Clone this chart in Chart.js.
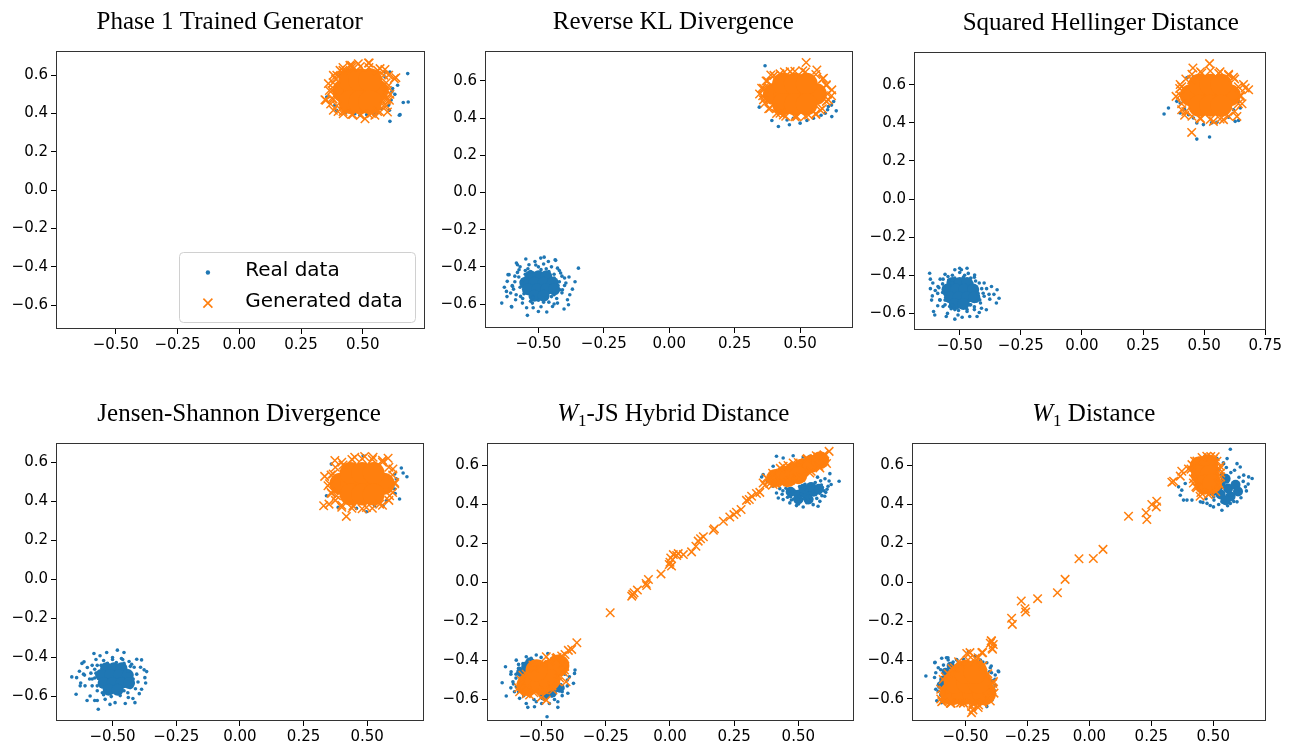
<!DOCTYPE html>
<html><head><meta charset="utf-8">
<script src="https://cdn.jsdelivr.net/npm/chart.js@4.4.1/dist/chart.umd.min.js"></script>
<style>
html,body{margin:0;padding:0;background:#fff;width:1294px;height:746px;overflow:hidden;position:relative}
canvas{position:absolute}
</style></head><body>
<canvas id="c1"></canvas><canvas id="c2"></canvas><canvas id="c3"></canvas>
<canvas id="c4"></canvas><canvas id="c5"></canvas><canvas id="c6"></canvas>
<script>
const BLUE = '#1f77b4', ORANGE = '#ff7f0e';

// ---------- tick values ----------
const xTicksA = [-0.5, -0.25, 0, 0.25, 0.5];
const xTicksB = [-0.5, -0.25, 0, 0.25, 0.5, 0.75];
const yTicks = [-0.6, -0.4, -0.2, 0, 0.2, 0.4, 0.6];

// ---------- titles ----------
const titles = [
  [{t:'Phase 1 Trained Generator'}],
  [{t:'Reverse KL Divergence'}],
  [{t:'Squared Hellinger Distance'}],
  [{t:'Jensen-Shannon Divergence'}],
  [{t:'W', it:true}, {t:'1', sub:true}, {t:'-JS Hybrid Distance'}],
  [{t:'W', it:true}, {t:'1', sub:true}, {t:' Distance'}]
];
const legendLabels = ['Real data', 'Generated data'];

// ---------- Panel 1: Phase 1 Trained Generator ----------
const p1Real = [[0.682,0.608],[0.664,0.457],[0.684,0.460],[0.651,0.394],[0.610,0.359],[0.641,0.547],[0.610,0.616],[0.590,0.616],[0.621,0.530],[0.618,0.513],[0.608,0.417],[0.604,0.443],[0.354,0.486],[0.387,0.443],[0.394,0.417],[0.468,0.399],[0.516,0.394],[0.489,0.391],[0.556,0.403],[0.576,0.425],[0.408,0.599],[0.590,0.590],[0.648,0.391],[0.360,0.486],[0.630,0.500],[0.615,0.470],[0.545,0.395],[0.430,0.405]];
const p1GenCore = [[0.425,0.517],[0.47,0.517],[0.51,0.517],[0.555,0.517],[0.45,0.574],[0.49,0.574],[0.53,0.574],[0.45,0.46],[0.49,0.46],[0.53,0.46]];
const p1Gen = [[0.351,0.469],[0.361,0.556],[0.381,0.599],[0.448,0.651],[0.523,0.663],[0.570,0.634],[0.628,0.582],[0.608,0.469],[0.600,0.408],[0.509,0.373],[0.421,0.399],[0.381,0.417],[0.549,0.391],[0.482,0.660],[0.408,0.625],[0.347,0.472],[0.634,0.587],[0.455,0.651],[0.526,0.663],[0.597,0.469],[0.570,0.408],[0.365,0.520],[0.375,0.480],[0.600,0.540],[0.605,0.600],[0.590,0.630],[0.420,0.640],[0.390,0.580],[0.460,0.395],[0.535,0.400],[0.595,0.440],[0.610,0.500],[0.370,0.450],[0.400,0.410],
  [0.600,0.520],[0.595,0.560],[0.585,0.600],[0.560,0.625],[0.525,0.640],[0.490,0.645],[0.455,0.640],[0.420,0.625],[0.395,0.600],[0.380,0.560],[0.375,0.520],[0.380,0.475],[0.395,0.440],[0.420,0.410],[0.455,0.395],[0.490,0.390],[0.525,0.395],[0.560,0.410],[0.585,0.440],[0.597,0.480]];

// ---------- Panel 2: Reverse KL ----------
const p2Real = [[-0.548,-0.358],[-0.513,-0.371],[-0.491,-0.353],[-0.478,-0.348],[-0.462,-0.371],[-0.436,-0.362],[-0.580,-0.389],[-0.612,-0.442],[-0.619,-0.478],[-0.640,-0.595],[-0.602,-0.616],[-0.542,-0.661],[-0.500,-0.640],[-0.468,-0.643],[-0.446,-0.613],[-0.402,-0.627],[-0.385,-0.604],[-0.389,-0.577],[-0.380,-0.550],[-0.395,-0.487],[-0.383,-0.455],[-0.415,-0.433],[-0.347,-0.407],[-0.606,-0.541],[-0.599,-0.505],[-0.568,-0.559],[-0.561,-0.595],[-0.427,-0.595],[-0.408,-0.523],[-0.523,-0.595],[-0.587,-0.577],[-0.427,-0.407],[-0.574,-0.416],[-0.536,-0.389],[-0.584,-0.379],[-0.616,-0.442],[-0.622,-0.532],[-0.418,-0.523],[-0.603,-0.613],[-0.434,-0.365],[-0.550,-0.420],[-0.450,-0.560],[-0.560,-0.470],[-0.440,-0.460],[-0.520,-0.560],[-0.480,-0.590],[-0.590,-0.450],[-0.420,-0.480],[-0.500,-0.400],[-0.470,-0.410],[-0.545,-0.620],[-0.430,-0.540],
  [-0.58,-0.43],[-0.57,-0.40],[-0.54,-0.41],[-0.51,-0.39],[-0.48,-0.385],[-0.45,-0.40],[-0.42,-0.42],[-0.41,-0.45],[-0.40,-0.50],[-0.41,-0.54],[-0.43,-0.57],[-0.46,-0.59],[-0.50,-0.58],[-0.53,-0.585],[-0.56,-0.57],[-0.585,-0.55],[-0.595,-0.52],[-0.59,-0.48],[-0.575,-0.455],[-0.55,-0.44],[-0.44,-0.44],[-0.425,-0.50],[-0.44,-0.55],[-0.47,-0.565],[-0.52,-0.565],[-0.555,-0.545],[-0.57,-0.51],[-0.565,-0.48],[-0.53,-0.425],[-0.49,-0.415],[-0.46,-0.425],[-0.60,-0.50],[-0.62,-0.56],[-0.63,-0.51],[-0.52,-0.62],[-0.49,-0.615],[-0.44,-0.60],[-0.40,-0.46],[-0.37,-0.52],[-0.36,-0.48],
  [0.366,0.682],[0.417,0.355],[0.392,0.387],[0.459,0.364],[0.500,0.373],[0.621,0.408],[0.638,0.439],[0.344,0.459],[0.608,0.462],[0.628,0.489],[0.596,0.426],[0.551,0.399],[0.474,0.399],[0.526,0.387],[0.450,0.390],[0.620,0.470],[0.605,0.445],[0.580,0.415]];
const p2RealCore = [[-0.53,-0.45],[-0.50,-0.45],[-0.47,-0.45],[-0.55,-0.485],[-0.515,-0.485],[-0.48,-0.485],[-0.445,-0.485],[-0.54,-0.52],[-0.505,-0.52],[-0.47,-0.52],[-0.44,-0.52],[-0.515,-0.555],[-0.48,-0.555]];
const p2GenCore = [[0.40,0.53],[0.44,0.53],[0.48,0.53],[0.52,0.53],[0.56,0.53],[0.435,0.585],[0.48,0.585],[0.525,0.585],[0.435,0.475],[0.48,0.475],[0.525,0.475]];
const p2Gen = [[0.523,0.699],[0.388,0.632],[0.353,0.561],[0.360,0.498],[0.564,0.659],[0.621,0.552],[0.423,0.638],[0.532,0.417],[0.462,0.650],[0.589,0.614],[0.608,0.498],[0.577,0.444],[0.487,0.408],[0.423,0.426],[0.385,0.453],[0.436,0.417],[0.345,0.530],[0.600,0.580],[0.510,0.655],[0.370,0.600],[0.620,0.520],[0.560,0.420],
  [0.605,0.530],[0.600,0.575],[0.585,0.610],[0.560,0.635],[0.520,0.648],[0.480,0.652],[0.440,0.648],[0.400,0.630],[0.375,0.600],[0.360,0.560],[0.357,0.520],[0.365,0.480],[0.380,0.450],[0.410,0.425],[0.445,0.410],[0.480,0.408],[0.520,0.410],[0.560,0.425],[0.585,0.450],[0.600,0.490]];

// ---------- Panel 3: Squared Hellinger ----------
const p3Real = [[-0.623,-0.389],[-0.620,-0.420],[-0.612,-0.508],[-0.607,-0.590],[-0.602,-0.608],[-0.555,-0.616],[-0.507,-0.608],[-0.459,-0.616],[-0.429,-0.616],[-0.391,-0.581],[-0.411,-0.573],[-0.339,-0.520],[-0.347,-0.476],[-0.370,-0.459],[-0.377,-0.525],[-0.439,-0.398],[-0.470,-0.363],[-0.493,-0.371],[-0.520,-0.371],[-0.548,-0.406],[-0.568,-0.420],[-0.589,-0.459],[-0.582,-0.529],[-0.568,-0.564],[-0.541,-0.564],[-0.459,-0.555],[-0.418,-0.529],[-0.404,-0.494],[-0.500,-0.363],[-0.530,-0.440],[-0.450,-0.440],[-0.560,-0.500],[-0.430,-0.480],[-0.520,-0.580],[-0.470,-0.590],[-0.400,-0.440],[-0.590,-0.560],[-0.480,-0.400],[-0.380,-0.500],[-0.440,-0.580],
  [-0.58,-0.42],[-0.56,-0.395],[-0.53,-0.40],[-0.50,-0.385],[-0.465,-0.39],[-0.44,-0.41],[-0.42,-0.44],[-0.41,-0.47],[-0.40,-0.51],[-0.415,-0.545],[-0.44,-0.565],[-0.47,-0.58],[-0.505,-0.585],[-0.535,-0.575],[-0.56,-0.555],[-0.58,-0.53],[-0.59,-0.495],[-0.585,-0.465],[-0.57,-0.445],[-0.545,-0.425],[-0.435,-0.43],[-0.425,-0.495],[-0.43,-0.535],[-0.455,-0.555],[-0.53,-0.555],[-0.56,-0.53],[-0.57,-0.49],[-0.565,-0.465],[-0.52,-0.415],[-0.485,-0.41],[-0.455,-0.415],[-0.60,-0.48],[-0.615,-0.53],[-0.62,-0.47],[-0.55,-0.60],[-0.49,-0.62],[-0.42,-0.595],[-0.39,-0.47],[-0.36,-0.50],[-0.35,-0.545],[-0.61,-0.44],[-0.52,-0.63],
  [0.336,0.447],[0.354,0.478],[0.388,0.513],[0.402,0.452],[0.436,0.443],[0.456,0.426],[0.470,0.315],[0.522,0.326],[0.497,0.391],[0.552,0.403],[0.627,0.408],[0.641,0.413],[0.648,0.478],[0.456,0.641],[0.429,0.636],[0.402,0.504],[0.641,0.513],[0.620,0.469],[0.420,0.470],[0.470,0.400],[0.530,0.400],[0.600,0.430]];
const p3RealCore = [[-0.53,-0.44],[-0.50,-0.44],[-0.47,-0.44],[-0.55,-0.475],[-0.515,-0.475],[-0.48,-0.475],[-0.445,-0.475],[-0.54,-0.515],[-0.505,-0.515],[-0.47,-0.515],[-0.44,-0.515],[-0.52,-0.55],[-0.485,-0.55]];
const p3GenCore = [[0.445,0.545],[0.485,0.545],[0.525,0.545],[0.565,0.545],[0.605,0.545],[0.48,0.60],[0.525,0.60],[0.57,0.60],[0.48,0.49],[0.525,0.49],[0.57,0.49]];
const p3Gen = [[0.522,0.711],[0.454,0.688],[0.490,0.662],[0.449,0.627],[0.402,0.601],[0.385,0.539],[0.408,0.469],[0.449,0.350],[0.620,0.639],[0.661,0.601],[0.682,0.574],[0.634,0.434],[0.538,0.408],[0.579,0.417],[0.484,0.426],[0.648,0.539],[0.668,0.583],[0.560,0.660],[0.600,0.650],[0.420,0.440],[0.655,0.500],[0.400,0.580],
  [0.648,0.545],[0.640,0.590],[0.625,0.630],[0.600,0.655],[0.565,0.668],[0.525,0.672],[0.485,0.668],[0.450,0.655],[0.425,0.630],[0.408,0.590],[0.402,0.545],[0.408,0.500],[0.425,0.460],[0.450,0.435],[0.485,0.420],[0.525,0.418],[0.565,0.420],[0.600,0.435],[0.625,0.460],[0.640,0.500]];

// ---------- Panel 4: Jensen-Shannon ----------
const p4Real = [[-0.660,-0.499],[-0.643,-0.588],[-0.641,-0.503],[-0.612,-0.422],[-0.573,-0.379],[-0.556,-0.665],[-0.523,-0.374],[-0.481,-0.362],[-0.455,-0.374],[-0.412,-0.631],[-0.386,-0.412],[-0.376,-0.463],[-0.366,-0.472],[-0.373,-0.503],[-0.386,-0.562],[-0.431,-0.554],[-0.490,-0.631],[-0.529,-0.614],[-0.588,-0.597],[-0.608,-0.545],[-0.614,-0.485],[-0.599,-0.451],[-0.405,-0.409],[-0.425,-0.434],[-0.549,-0.391],[-0.627,-0.545],[-0.438,-0.605],[-0.560,-0.440],[-0.440,-0.470],[-0.580,-0.510],[-0.420,-0.510],[-0.540,-0.580],[-0.470,-0.580],[-0.500,-0.410],[-0.600,-0.620],[-0.460,-0.410],[-0.560,-0.620],
  [-0.58,-0.44],[-0.565,-0.41],[-0.535,-0.415],[-0.50,-0.40],[-0.465,-0.405],[-0.435,-0.42],[-0.415,-0.45],[-0.405,-0.485],[-0.40,-0.525],[-0.41,-0.56],[-0.44,-0.58],[-0.47,-0.595],[-0.505,-0.60],[-0.535,-0.59],[-0.56,-0.57],[-0.58,-0.545],[-0.59,-0.51],[-0.585,-0.48],[-0.57,-0.46],[-0.545,-0.44],[-0.43,-0.445],[-0.42,-0.51],[-0.425,-0.55],[-0.455,-0.57],[-0.53,-0.57],[-0.56,-0.545],[-0.57,-0.505],[-0.565,-0.48],[-0.52,-0.43],[-0.485,-0.425],[-0.455,-0.43],[-0.61,-0.49],[-0.625,-0.53],[-0.63,-0.47],[-0.57,-0.62],[-0.51,-0.64],[-0.42,-0.61],[-0.39,-0.45],[-0.37,-0.53],[-0.395,-0.585],[-0.62,-0.43],[-0.45,-0.635],
  [0.359,0.591],[0.484,0.634],[0.634,0.571],[0.656,0.526],[0.641,0.545],[0.627,0.412],[0.608,0.540],[0.614,0.515],[0.601,0.480],[0.608,0.463],[0.497,0.347],[0.529,0.378],[0.562,0.378],[0.340,0.429],[0.386,0.369],[0.458,0.364],[0.575,0.403],[0.610,0.440]];
const p4RealCore = [[-0.525,-0.455],[-0.495,-0.455],[-0.465,-0.455],[-0.545,-0.49],[-0.51,-0.49],[-0.475,-0.49],[-0.44,-0.49],[-0.535,-0.53],[-0.50,-0.53],[-0.465,-0.53],[-0.435,-0.53],[-0.515,-0.565],[-0.48,-0.565]];
const p4GenCore = [[0.395,0.49],[0.437,0.49],[0.48,0.49],[0.523,0.49],[0.565,0.49],[0.435,0.545],[0.48,0.545],[0.525,0.545],[0.435,0.435],[0.48,0.435],[0.525,0.435]];
const p4Gen = [[0.333,0.528],[0.329,0.378],[0.350,0.386],[0.418,0.323],[0.373,0.609],[0.405,0.586],[0.366,0.540],[0.346,0.480],[0.451,0.626],[0.523,0.626],[0.582,0.621],[0.601,0.566],[0.608,0.497],[0.588,0.429],[0.549,0.386],[0.497,0.369],[0.444,0.378],[0.379,0.429],[0.560,0.610],[0.490,0.630],[0.360,0.440],[0.400,0.370],
  [0.608,0.490],[0.600,0.535],[0.585,0.575],[0.560,0.600],[0.520,0.615],[0.480,0.618],[0.440,0.615],[0.400,0.600],[0.375,0.575],[0.358,0.535],[0.352,0.490],[0.358,0.445],[0.375,0.405],[0.400,0.380],[0.440,0.365],[0.480,0.362],[0.520,0.365],[0.560,0.380],[0.585,0.405],[0.600,0.445]];

// ---------- Panel 5: W1-JS Hybrid ----------
const p5Real = [[-0.654,-0.514],[-0.638,-0.582],[-0.641,-0.432],[-0.619,-0.458],[-0.612,-0.509],[-0.599,-0.398],[-0.586,-0.440],[-0.560,-0.381],[-0.541,-0.389],[-0.521,-0.372],[-0.502,-0.384],[-0.476,-0.364],[-0.554,-0.640],[-0.528,-0.637],[-0.479,-0.688],[-0.437,-0.640],[-0.437,-0.611],[-0.398,-0.568],[-0.376,-0.517],[-0.372,-0.466],[-0.370,-0.449],[-0.392,-0.483],[-0.418,-0.543],[-0.586,-0.594],[-0.606,-0.560],[-0.521,-0.611],[-0.470,-0.620],[-0.560,-0.620],[-0.599,-0.535],[-0.573,-0.415],[-0.600,-0.470],[-0.580,-0.500],[-0.555,-0.410],[-0.530,-0.405],[-0.460,-0.580],[-0.490,-0.600],[-0.420,-0.580],[-0.400,-0.530],[-0.620,-0.540],[-0.590,-0.420],
  [-0.59,-0.44],[-0.57,-0.42],[-0.55,-0.395],[-0.53,-0.41],[-0.60,-0.49],[-0.61,-0.52],[-0.59,-0.56],[-0.57,-0.58],[-0.53,-0.60],[-0.50,-0.62],[-0.45,-0.60],[-0.42,-0.56],[-0.40,-0.50],[-0.41,-0.47],[-0.46,-0.39],[-0.62,-0.47],
  [0.415,0.647],[0.480,0.650],[0.519,0.643],[0.545,0.647],[0.441,0.638],[0.363,0.553],[0.357,0.541],[0.402,0.596],[0.659,0.519],[0.623,0.558],[0.616,0.493],[0.603,0.442],[0.584,0.416],[0.558,0.399],[0.519,0.387],[0.493,0.394],[0.467,0.408],[0.441,0.425],[0.415,0.459],[0.402,0.493],[0.422,0.433],[0.577,0.391],[0.600,0.470],[0.620,0.520],[0.590,0.500],[0.440,0.470],[0.470,0.440],[0.540,0.420],[0.380,0.520],[0.575,0.540],
  [0.452,0.483],[0.468,0.452],[0.487,0.468],[0.512,0.455],[0.533,0.472],[0.556,0.466],[0.571,0.483],[0.594,0.487],[0.458,0.437],[0.482,0.428],[0.503,0.441],[0.524,0.428],[0.547,0.439],[0.563,0.452],[0.583,0.458],[0.607,0.462],[0.493,0.413],[0.511,0.421],[0.533,0.409],[0.552,0.428],[0.572,0.431],[0.505,0.492],[0.526,0.503],[0.548,0.497],[0.566,0.512],[0.587,0.521],[0.604,0.532],[0.628,0.502],[0.437,0.452],[0.428,0.481],[0.612,0.478],[0.592,0.445],[0.501,0.402],[0.473,0.423]];
const p5RealCoreUR = [[0.47,0.465],[0.50,0.45],[0.53,0.455],[0.56,0.465],[0.52,0.48],[0.55,0.49],[0.58,0.48],[0.50,0.425],[0.54,0.425]];
const p5RealCoreLL = [[-0.58,-0.46],[-0.56,-0.43],[-0.545,-0.41],[-0.46,-0.565],[-0.49,-0.58],[-0.43,-0.54]];
const p5GenCoreUR = [[0.41,0.535],[0.445,0.553],[0.48,0.571],[0.515,0.59],[0.55,0.608],[0.585,0.627],[0.46,0.535],[0.50,0.55]];
const p5GenCoreLL = [[-0.555,-0.525],[-0.525,-0.500],[-0.495,-0.475],[-0.465,-0.450],[-0.435,-0.425],[-0.50,-0.52],[-0.47,-0.50],[-0.52,-0.45]];
const p5Gen = [[0.620,0.672],[0.597,0.643],[0.389,0.507],[0.370,0.498],[0.409,0.510],[0.350,0.462],[0.337,0.456],[0.318,0.442],[0.309,0.425],[0.298,0.421],[0.277,0.374],[0.259,0.360],[0.249,0.348],[0.233,0.336],[0.208,0.314],[0.173,0.275],[0.169,0.268],[0.130,0.234],[0.119,0.224],[0.110,0.212],[0.101,0.186],[0.084,0.157],[0.052,0.143],[0.032,0.148],[0.026,0.138],[0.013,0.143],[0.003,0.126],[0.000,0.104],[-0.003,0.092],[0.006,0.084],[-0.035,0.044],[-0.084,0.015],[-0.093,-0.005],[-0.091,-0.015],[-0.127,-0.039],[-0.140,-0.053],[-0.149,-0.070],[-0.145,-0.061],[-0.233,-0.155],[-0.363,-0.309],[-0.383,-0.343],[-0.396,-0.348],[-0.409,-0.369],[-0.422,-0.377],
  [0.363,0.510],[0.376,0.536],[0.441,0.596],[0.480,0.613],[0.532,0.630],[0.577,0.643],[0.584,0.587],[0.545,0.561],[0.493,0.536],[0.441,0.510],[0.402,0.502],[0.603,0.621],
  [0.400,0.560],[0.430,0.585],[0.460,0.600],[0.500,0.615],[0.535,0.635],[0.570,0.650],[0.600,0.655],[0.430,0.515],[0.470,0.525],[0.510,0.540],[0.550,0.570],[0.580,0.595],[0.610,0.610],[0.385,0.525],
  [-0.444,-0.389],[-0.411,-0.449],[-0.405,-0.509],[-0.586,-0.560],[-0.547,-0.577],[-0.502,-0.589],[-0.482,-0.603],[-0.573,-0.475],[-0.534,-0.423],[-0.482,-0.381],[-0.437,-0.509],[-0.456,-0.551],[-0.560,-0.540],[-0.420,-0.420],
  [-0.580,-0.500],[-0.560,-0.470],[-0.530,-0.440],[-0.500,-0.420],[-0.470,-0.400],[-0.440,-0.385],[-0.560,-0.570],[-0.530,-0.565],[-0.490,-0.550],[-0.460,-0.530],[-0.430,-0.490],[-0.415,-0.460],[-0.410,-0.430],[-0.590,-0.540]];

// ---------- Panel 6: W1 Distance ----------
const p6Real = [[-0.660,-0.482],[-0.623,-0.412],[-0.620,-0.465],[-0.596,-0.391],[-0.589,-0.426],[-0.571,-0.388],[-0.598,-0.511],[-0.609,-0.528],[-0.616,-0.609],[-0.535,-0.400],[-0.508,-0.396],[-0.488,-0.357],[-0.414,-0.414],[-0.396,-0.431],[-0.404,-0.460],[-0.366,-0.460],[-0.380,-0.477],[-0.393,-0.506],[-0.385,-0.554],[-0.495,-0.605],[-0.515,-0.591],[-0.535,-0.584],[-0.555,-0.596],[-0.414,-0.639],[-0.461,-0.605],[-0.393,-0.605],[-0.582,-0.571],[-0.624,-0.414],[-0.577,-0.388],[-0.536,-0.397],[-0.395,-0.465],[-0.368,-0.456],[-0.381,-0.499],[-0.597,-0.619],[-0.600,-0.450],[-0.580,-0.480],[-0.560,-0.420],[-0.610,-0.560],[-0.440,-0.400],[-0.460,-0.380],
  [-0.57,-0.40],[-0.55,-0.41],[-0.53,-0.42],[-0.61,-0.44],[-0.625,-0.49],[-0.62,-0.55],[-0.60,-0.58],[-0.58,-0.60],[-0.40,-0.44],[-0.38,-0.53],[-0.39,-0.59],[-0.43,-0.41],
  [0.569,0.682],[0.657,0.532],[0.643,0.540],[0.623,0.549],[0.609,0.591],[0.596,0.608],[0.556,0.634],[0.535,0.412],[0.569,0.404],[0.596,0.412],[0.576,0.446],[0.609,0.472],[0.630,0.489],[0.475,0.404],[0.448,0.412],[0.501,0.386],[0.535,0.369],[0.394,0.421],[0.380,0.421],[0.414,0.421],[0.367,0.446],[0.360,0.489],[0.373,0.472],[0.387,0.506],[0.529,0.472],[0.502,0.438],[0.589,0.506],[0.542,0.608],[0.515,0.634],[0.468,0.648],[0.542,0.523],
  [0.503,0.421],[0.522,0.398],[0.491,0.452],[0.512,0.518],[0.533,0.553],[0.571,0.562],[0.604,0.538],[0.621,0.517],[0.612,0.433],[0.583,0.414],[0.558,0.392],[0.488,0.393],[0.471,0.428],[0.458,0.409],[0.634,0.468],[0.641,0.503],[0.586,0.574],[0.553,0.588],[0.522,0.579],[0.541,0.612]];
const p6RealCoreUR = [[0.53,0.50],[0.56,0.48],[0.55,0.53],[0.59,0.50],[0.53,0.45],[0.57,0.44],[0.60,0.465],[0.55,0.42],[0.51,0.47]];
const p6RealCoreLL = [[-0.58,-0.46],[-0.56,-0.43],[-0.59,-0.50],[-0.60,-0.53]];
const p6GenCoreUR = [[0.445,0.595],[0.48,0.605],[0.45,0.55],[0.485,0.55],[0.465,0.50],[0.495,0.505]];
const p6GenCoreLL = [[-0.555,-0.57],[-0.51,-0.57],[-0.465,-0.57],[-0.425,-0.57],[-0.54,-0.51],[-0.49,-0.51],[-0.445,-0.51],[-0.50,-0.46],[-0.46,-0.46]];
const p6Gen = [[0.340,0.518],[0.158,0.338],[0.229,0.356],[0.232,0.321],[0.252,0.398],[0.272,0.415],[0.270,0.386],[0.055,0.168],[0.016,0.121],[-0.042,0.120],[-0.098,0.014],[-0.129,-0.055],[-0.209,-0.085],[-0.275,-0.097],[-0.260,-0.137],[-0.257,-0.154],[-0.314,-0.186],[-0.311,-0.217],[-0.395,-0.303],[-0.388,-0.320],[-0.391,-0.345],[-0.431,-0.362],[-0.449,-0.388],[-0.482,-0.362],
  [0.333,0.513],[0.367,0.544],[0.400,0.581],[0.414,0.603],[0.434,0.621],[0.508,0.643],[0.528,0.595],[0.522,0.509],[0.488,0.458],[0.447,0.441],[0.434,0.484],[0.373,0.569],[0.474,0.646],[0.420,0.509],[0.500,0.630],[0.530,0.560],
  [0.410,0.580],[0.425,0.620],[0.455,0.640],[0.490,0.645],[0.515,0.620],[0.525,0.580],[0.530,0.540],[0.525,0.500],[0.510,0.465],[0.480,0.450],[0.450,0.460],[0.430,0.490],[0.420,0.530],
  [-0.596,-0.614],[-0.558,-0.622],[-0.508,-0.622],[-0.470,-0.656],[-0.475,-0.639],[-0.447,-0.631],[-0.393,-0.554],[-0.387,-0.511],[-0.434,-0.362],[-0.461,-0.391],[-0.495,-0.366],[-0.400,-0.314],[-0.393,-0.340],[-0.396,-0.301],[-0.589,-0.554],[-0.582,-0.486],[-0.555,-0.443],[-0.528,-0.409],[-0.476,-0.670],[-0.414,-0.596],[-0.593,-0.610],[-0.561,-0.622],[-0.509,-0.619],[-0.449,-0.644],
  [-0.600,-0.600],[-0.600,-0.550],[-0.590,-0.500],[-0.570,-0.470],[-0.545,-0.440],[-0.520,-0.420],[-0.490,-0.400],[-0.460,-0.410],[-0.430,-0.430],[-0.410,-0.470],[-0.390,-0.520],[-0.385,-0.570],[-0.400,-0.610],[-0.430,-0.620],[-0.470,-0.625],[-0.520,-0.620],[-0.560,-0.620]];

// ---------- layout / style (not data) ----------
const panels = [
  {id:'c1', rect:[56,51,425,329],  xr:[-0.742,0.752], yr:[-0.724,0.726], xt:xTicksA, ti:0, dx:-10.8, legend:true,
   real:p1Real, gen:p1Gen, realCores:[], genCores:[{p:p1GenCore,r:12}]},
  {id:'c2', rect:[485,51,853,328], xr:[-0.704,0.702], yr:[-0.729,0.761], xt:xTicksA, ti:1, dx:4.3,
   real:p2Real, gen:p2Gen, realCores:[{p:p2RealCore,r:6}], genCores:[{p:p2GenCore,r:11}]},
  {id:'c3', rect:[914,52,1266,330], xr:[-0.687,0.753], yr:[-0.687,0.772], xt:xTicksB, ti:2, dx:10.8,
   real:p3Real, gen:p3Gen, realCores:[{p:p3RealCore,r:6}], genCores:[{p:p3GenCore,r:11}]},
  {id:'c4', rect:[56,443,424,721], xr:[-0.722,0.723], yr:[-0.725,0.699], xt:xTicksA, ti:3, dx:-0.9,
   real:p4Real, gen:p4Gen, realCores:[{p:p4RealCore,r:6}], genCores:[{p:p4GenCore,r:11}]},
  {id:'c5', rect:[487,443,854,721], xr:[-0.713,0.717], yr:[-0.710,0.715], xt:xTicksA, ti:4, dx:2.8,
   real:p5Real, gen:p5Gen, realCores:[{p:p5RealCoreUR,r:5},{p:p5RealCoreLL,r:5}], genCores:[{p:p5GenCoreUR,r:9},{p:p5GenCoreLL,r:11}]},
  {id:'c6', rect:[912,443,1266,721], xr:[-0.716,0.713], yr:[-0.713,0.714], xt:xTicksA, ti:5, dx:4.8,
   real:p6Real, gen:p6Gen, realCores:[{p:p6RealCoreUR,r:5},{p:p6RealCoreLL,r:4}], genCores:[{p:p6GenCoreUR,r:10},{p:p6GenCoreLL,r:12}]}
];

const Y_AXIS_W = 56, X_AXIS_H = 26, TOP_PAD = 51;
const TICK_FONT = {family:'"DejaVu Sans", sans-serif', size:15};

function toPts(a){ return a.map(p => ({x:p[0], y:p[1]})); }
function fmt(v, d){ const s = Math.abs(v).toFixed(d); return (v < -1e-9 ? '\u2212' : '') + s; }

function titlePlugin(parts, dx){
  return { id:'panelTitle', afterDraw(chart){
    const ctx = chart.ctx, ca = chart.chartArea;
    const fonts = parts.map(p => p.sub ? '17px "Liberation Serif", serif' : (p.it ? 'italic 25px "Liberation Serif", serif' : '25px "Liberation Serif", serif'));
    ctx.save();
    let w = 0; const ws = [];
    parts.forEach((p,i) => { ctx.font = fonts[i]; const m = ctx.measureText(p.t).width; ws.push(m); w += m; });
    let x = (ca.left + ca.right)/2 + dx - w/2; const y = ca.top - 22;
    ctx.fillStyle = '#000'; ctx.textAlign = 'left'; ctx.textBaseline = 'alphabetic';
    parts.forEach((p,i) => { ctx.font = fonts[i]; ctx.fillText(p.t, x, y + (p.sub ? 5 : 0)); x += ws[i]; });
    ctx.restore();
  }};
}
const boxPlugin = { id:'frameBox', afterDatasetsDraw(chart){
  const ctx = chart.ctx, ca = chart.chartArea;
  ctx.save(); ctx.strokeStyle = '#333'; ctx.lineWidth = 1;
  ctx.strokeRect(Math.round(ca.left)+0.5, Math.round(ca.top)+0.5, Math.round(ca.right-ca.left)-1, Math.round(ca.bottom-ca.top)-1);
  ctx.restore();
}};
const legendPlugin = { id:'innerLegend', afterDraw(chart){
  const ctx = chart.ctx, ca = chart.chartArea;
  const w = 236, h = 70, r = 4;
  const L = ca.right - 9.5 - w, T = ca.bottom - 6.5 - h;
  ctx.save();
  ctx.beginPath();
  ctx.moveTo(L+r, T); ctx.lineTo(L+w-r, T); ctx.arcTo(L+w, T, L+w, T+r, r);
  ctx.lineTo(L+w, T+h-r); ctx.arcTo(L+w, T+h, L+w-r, T+h, r);
  ctx.lineTo(L+r, T+h); ctx.arcTo(L, T+h, L, T+h-r, r);
  ctx.lineTo(L, T+r); ctx.arcTo(L, T, L+r, T, r); ctx.closePath();
  ctx.fillStyle = 'rgba(255,255,255,0.8)'; ctx.fill();
  ctx.strokeStyle = '#d0d0d0'; ctx.lineWidth = 1; ctx.stroke();
  const mx = L + 28.4;
  ctx.fillStyle = BLUE; ctx.beginPath(); ctx.arc(mx, T+20, 2.2, 0, Math.PI*2); ctx.fill();
  ctx.strokeStyle = ORANGE; ctx.lineWidth = 1.6; ctx.beginPath();
  ctx.moveTo(mx-4.5, T+46.1); ctx.lineTo(mx+4.5, T+55.1); ctx.moveTo(mx+4.5, T+46.1); ctx.lineTo(mx-4.5, T+55.1); ctx.stroke();
  ctx.fillStyle = '#000'; ctx.font = '20px "DejaVu Sans", sans-serif'; ctx.textBaseline = 'middle'; ctx.textAlign = 'left';
  ctx.fillText(legendLabels[0], L + 65.7, T + 18);
  ctx.fillText(legendLabels[1], L + 65.7, T + 49);
  ctx.restore();
}};

panels.forEach(pn => {
  const [L, T, R, B] = pn.rect;
  const rightPad = Math.min(30, 1294 - R);
  const cv = document.getElementById(pn.id);
  const cw = (R - L) + Y_AXIS_W + rightPad, ch = (B - T) + TOP_PAD + X_AXIS_H;
  cv.width = cw; cv.height = ch;
  cv.style.left = (L - Y_AXIS_W) + 'px'; cv.style.top = (T - TOP_PAD) + 'px';
  cv.style.width = cw + 'px'; cv.style.height = ch + 'px';

  const datasets = [];
  datasets.push({label: legendLabels[1], data: toPts(pn.gen), pointStyle:'crossRot', pointRadius:6, pointBorderWidth:1.5,
    borderColor: ORANGE, backgroundColor: ORANGE, order: 0});
  pn.genCores.forEach(c => datasets.push({label:'gen-core', data: toPts(c.p), pointStyle:'circle', pointRadius:c.r, pointBorderWidth:0,
    borderColor: ORANGE, backgroundColor: ORANGE, order: 1}));
  datasets.push({label: legendLabels[0], data: toPts(pn.real), pointStyle:'circle', pointRadius:1.8, pointBorderWidth:0,
    borderColor: BLUE, backgroundColor: BLUE, order: 2});
  pn.realCores.forEach(c => datasets.push({label:'real-core', data: toPts(c.p), pointStyle:'circle', pointRadius:c.r, pointBorderWidth:0,
    borderColor: BLUE, backgroundColor: BLUE, order: 3}));

  const plugins = [boxPlugin, titlePlugin(titles[pn.ti], pn.dx)];
  if (pn.legend) plugins.push(legendPlugin);

  new Chart(cv, {
    type: 'scatter',
    data: {datasets},
    plugins,
    options: {
      responsive: false, animation: false, devicePixelRatio: 1,
      events: [],
      layout: {padding: {left: 0, top: TOP_PAD, right: rightPad, bottom: 0}},
      plugins: {legend: {display: false}, tooltip: {enabled: false}, title: {display: false}},
      scales: {
        x: {type:'linear', position:'bottom', min: pn.xr[0], max: pn.xr[1],
          afterFit(s){ s.height = X_AXIS_H; },
          afterBuildTicks(s){ s.ticks = pn.xt.map(v => ({value: v})); },
          ticks: {font: TICK_FONT, color:'#000', padding: 2, maxRotation: 0, autoSkip: false, callback: v => fmt(v, 2)},
          grid: {display: true, drawOnChartArea: false, drawTicks: true, tickLength: 5, tickColor: '#000', tickWidth: 1},
          border: {display: false}},
        y: {type:'linear', position:'left', min: pn.yr[0], max: pn.yr[1],
          afterFit(s){ s.width = Y_AXIS_W; },
          afterBuildTicks(s){ s.ticks = yTicks.map(v => ({value: v})); },
          ticks: {font: TICK_FONT, color:'#000', padding: 3, autoSkip: false, callback: v => fmt(v, 1)},
          grid: {display: true, drawOnChartArea: false, drawTicks: true, tickLength: 5, tickColor: '#000', tickWidth: 1},
          border: {display: false}}
      }
    }
  });
});
</script>
</body></html>
